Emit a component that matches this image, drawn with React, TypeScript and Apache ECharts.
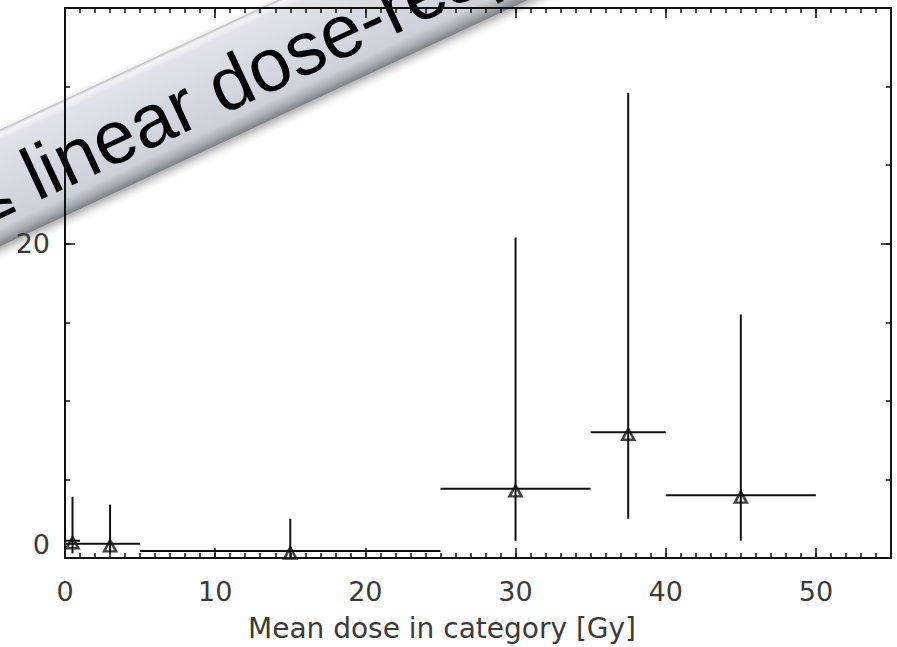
import { useEffect, useRef } from "react";
import * as echarts from "echarts";

// Dose categories: representative dose and the category bounds [Gy]
const doseMid = [0.5, 3, 15, 30, 37.5, 45];
const doseLow = [0, 0, 5, 25, 35, 40];
const doseHigh = [1, 5, 25, 35, 40, 50];
// Risk estimate per category with its confidence interval
const riskEstimate = [1.1, 0.9, 0.45, 4.4, 8.0, 4.0];
const riskLower = [0.3, 0.3, 0.0, 1.1, 2.5, 1.1];
const riskUpper = [3.9, 3.4, 2.5, 20.4, 29.6, 15.5];

const xTitle = "Mean dose in category [Gy]";
const bannerText = "\u2264 linear dose-response";

const INK = "#111";
const LABEL_FONT = "DejaVu Sans";

export default function App() {
  const ref = useRef<HTMLDivElement>(null);

  useEffect(() => {
    if (!ref.current) return;
    const chart = echarts.init(ref.current, null, { renderer: "svg" });

    const rows = doseMid.map((x, i) => [
      x,
      riskEstimate[i],
      doseLow[i],
      doseHigh[i],
      riskLower[i],
      riskUpper[i],
    ]);

    const labelStyle = {
      fontFamily: LABEL_FONT,
      fontSize: 27,
      color: "#3a3a3a",
    };

    const frameLine = { show: true, onZero: false, lineStyle: { color: INK, width: 2 } };
    const noLine = { show: false, onZero: false };
    const majorTick = { show: true, inside: true, length: 10, lineStyle: { color: INK, width: 1.5 } };
    const minorTick = { show: true, inside: true, length: 5, lineStyle: { color: INK, width: 1.5 } };

    const xBase = {
      type: "value" as const,
      min: 0,
      max: 55,
      splitLine: { show: false },
    };
    const yBase = {
      type: "value" as const,
      min: 0,
      max: 35,
      splitLine: { show: false },
    };

    const bannerFill = new echarts.graphic.LinearGradient(0, 0, 0, 1, [
      { offset: 0, color: "#b4b9c1" },
      { offset: 0.03, color: "#f3f5f8" },
      { offset: 0.1, color: "#dfe3e9" },
      { offset: 0.5, color: "#d4d9e1" },
      { offset: 0.84, color: "#ccd1d9" },
      { offset: 0.93, color: "#a6abb2" },
      { offset: 1, color: "#7a7f86" },
    ]);

    chart.setOption({
      animation: false,
      backgroundColor: "#fff",
      grid: { left: 65, right: 6, top: 8, bottom: 89, containLabel: false },
      xAxis: [
        {
          ...xBase,
          position: "bottom",
          interval: 10,
          axisLine: frameLine,
          axisTick: majorTick,
          axisLabel: { ...labelStyle, margin: 20, showMaxLabel: false },
          name: xTitle,
          nameLocation: "middle",
          nameGap: 56,
          nameTextStyle: { ...labelStyle, fontSize: 28, padding: [0, 72, 0, 0] },
        },
        {
          ...xBase,
          position: "bottom",
          interval: 1,
          axisLine: noLine,
          axisTick: minorTick,
          axisLabel: { show: false },
        },
        {
          ...xBase,
          position: "top",
          interval: 10,
          axisLine: frameLine,
          axisTick: majorTick,
          axisLabel: { show: false },
        },
        {
          ...xBase,
          position: "top",
          interval: 1,
          axisLine: noLine,
          axisTick: minorTick,
          axisLabel: { show: false },
        },
      ],
      yAxis: [
        {
          ...yBase,
          position: "left",
          interval: 20,
          axisLine: frameLine,
          axisTick: majorTick,
          axisLabel: {
            ...labelStyle,
            margin: 15,
            showMaxLabel: false,
            verticalAlignMinLabel: "bottom",
          },
        },
        {
          ...yBase,
          position: "left",
          interval: 5,
          axisLine: noLine,
          axisTick: minorTick,
          axisLabel: { show: false },
        },
        {
          ...yBase,
          position: "right",
          interval: 20,
          axisLine: frameLine,
          axisTick: majorTick,
          axisLabel: { show: false },
        },
        {
          ...yBase,
          position: "right",
          interval: 5,
          axisLine: noLine,
          axisTick: minorTick,
          axisLabel: { show: false },
        },
      ],
      series: [
        {
          type: "custom",
          xAxisIndex: 0,
          yAxisIndex: 0,
          data: rows,
          encode: { x: 0, y: 1 },
          renderItem: (_params: any, api: any) => {
            const left = api.coord([api.value(2), api.value(1)]);
            const right = api.coord([api.value(3), api.value(1)]);
            const low = api.coord([api.value(0), api.value(4)]);
            const high = api.coord([api.value(0), api.value(5)]);
            const style = { stroke: INK, lineWidth: 2 };
            return {
              type: "group",
              children: [
                { type: "line", shape: { x1: left[0], y1: left[1], x2: right[0], y2: right[1] }, style },
                { type: "line", shape: { x1: low[0], y1: low[1], x2: high[0], y2: high[1] }, style },
              ],
            };
          },
          z: 2,
        },
        {
          type: "scatter",
          xAxisIndex: 0,
          yAxisIndex: 0,
          data: doseMid.map((x, i) => [x, riskEstimate[i]]),
          symbol: "triangle",
          symbolSize: [12, 11],
          symbolOffset: [0, 2],
          itemStyle: { color: "rgba(255,255,255,0)", borderColor: INK, borderWidth: 2.5 },
          z: 3,
        },
      ],
      graphic: [
        {
          type: "group",
          x: 0,
          y: 188,
          rotation: (25 * Math.PI) / 180,
          z: 100,
          children: [
            {
              type: "rect",
              shape: { x: -140, y: -53, width: 1000, height: 106 },
              style: {
                fill: bannerFill,
                shadowBlur: 8,
                shadowColor: "rgba(0,0,0,0.35)",
                shadowOffsetX: 2,
                shadowOffsetY: 4,
              },
            },
            {
              type: "text",
              x: -34,
              y: 2,
              style: {
                text: bannerText,
                fontFamily: "Liberation Sans",
                fontSize: 75,
                fill: "#000",
                align: "left",
                verticalAlign: "middle",
              },
            },
          ],
        },
      ],
    });

    return () => chart.dispose();
  }, []);

  return (
    <div
      ref={ref}
      style={{ position: "fixed", left: 0, top: 0, width: 897, height: 647 }}
    />
  );
}
